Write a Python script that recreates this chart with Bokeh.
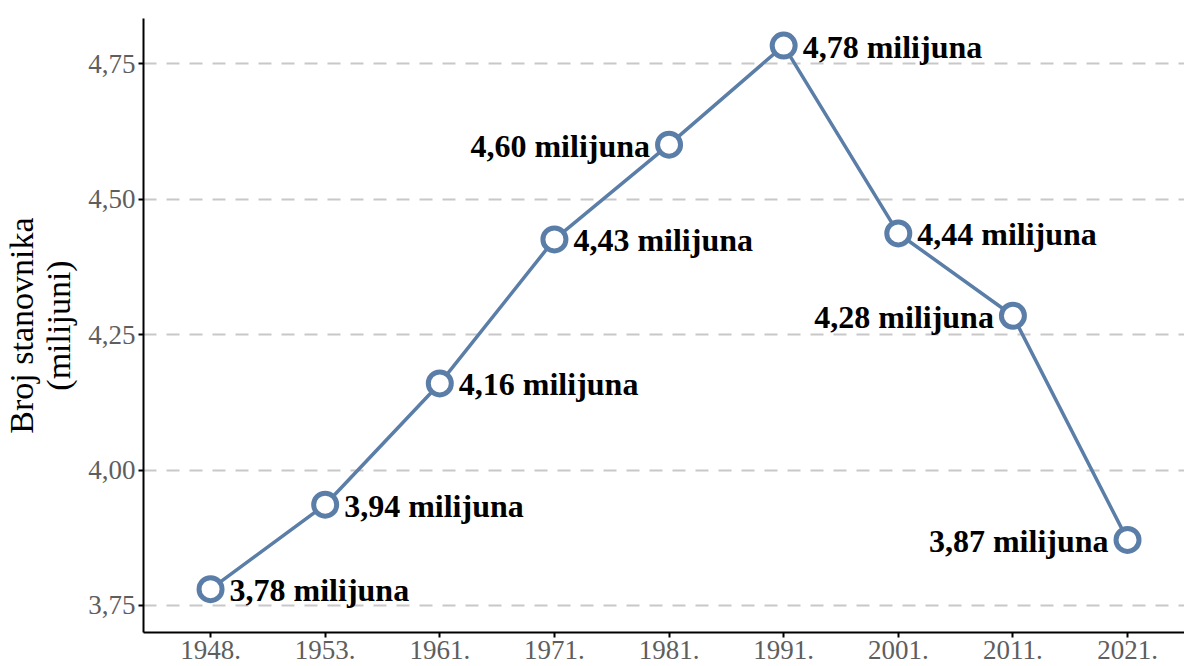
from bokeh.plotting import figure
from bokeh.models import Range1d, FixedTicker, ColumnDataSource
from bokeh.core.properties import value
from bokeh.embed import file_html
from bokeh.resources import INLINE

years = ["1948.", "1953.", "1961.", "1971.", "1981.", "1991.", "2001.", "2011.", "2021."]
population = [3.780, 3.936, 4.160, 4.426, 4.601, 4.784, 4.437, 4.285, 3.871]
labels = ["3,78 milijuna", "3,94 milijuna", "4,16 milijuna", "4,43 milijuna", "4,60 milijuna",
          "4,78 milijuna", "4,44 milijuna", "4,28 milijuna", "3,87 milijuna"]
label_side = ["right", "right", "right", "right", "left", "right", "right", "left", "left"]
y_ticks = [3.75, 4.00, 4.25, 4.50, 4.75]
y_tick_labels = ["3,75", "4,00", "4,25", "4,50", "4,75"]

FONT = "Liberation Serif"
BLUE = "#5a7ea7"

xs = list(range(len(years)))

p = figure(width=1184, height=666, output_backend="svg", toolbar_location=None,
           x_range=Range1d(-0.585, 8.497), y_range=Range1d(3.700, 4.834),
           min_border_left=142, min_border_right=0, min_border_top=18, min_border_bottom=34)
p.outline_line_color = None
p.background_fill_color = "white"

p.xgrid.grid_line_color = None
p.ygrid.grid_line_color = "#c8c8c8"
p.ygrid.grid_line_width = 2
p.ygrid.grid_line_dash = "13 10"
p.ygrid.ticker = FixedTicker(ticks=y_ticks)

p.xaxis.ticker = FixedTicker(ticks=xs)
p.xaxis.major_label_overrides = {i: y for i, y in enumerate(years)}
p.yaxis.ticker = FixedTicker(ticks=y_ticks)
p.yaxis.major_label_overrides = {t: l for t, l in zip(y_ticks, y_tick_labels)}

for ax in (p.xaxis[0], p.yaxis[0]):
    ax.axis_line_color = "black"
    ax.axis_line_width = 2
    ax.major_tick_line_color = "black"
    ax.major_tick_line_width = 2
    ax.major_tick_out = 5
    ax.major_tick_in = 0
    ax.minor_tick_line_color = None
    ax.major_label_text_font = FONT
    ax.major_label_text_font_size = "27px"
    ax.major_label_text_color = "#5e5e5e"
    ax.major_label_standoff = 3

p.yaxis.axis_label = "Broj stanovnika\n(milijuni)"
p.yaxis.axis_label_text_font = FONT
p.yaxis.axis_label_text_font_size = "34px"
p.yaxis.axis_label_text_font_style = "normal"
p.yaxis.axis_label_text_color = "black"
p.yaxis.axis_label_text_line_height = 1.0
p.yaxis.axis_label_standoff = 8

src = ColumnDataSource(dict(x=xs, y=population, label=labels))
p.line("x", "y", source=src, line_color=BLUE, line_width=3.5)
p.scatter("x", "y", source=src, size=23, fill_color="white", line_color=BLUE, line_width=5)

r_idx = [i for i, s in enumerate(label_side) if s == "right"]
l_idx = [i for i, s in enumerate(label_side) if s == "left"]
src_r = ColumnDataSource(dict(x=[xs[i] for i in r_idx], y=[population[i] for i in r_idx],
                              label=[labels[i] for i in r_idx]))
src_l = ColumnDataSource(dict(x=[xs[i] for i in l_idx], y=[population[i] for i in l_idx],
                              label=[labels[i] for i in l_idx]))
p.text("x", "y", text="label", source=src_r, x_offset=19, y_offset=1,
       text_font=value(FONT), text_font_size="32px", text_font_style="bold",
       text_align="left", text_baseline="middle", text_color="black")
p.text("x", "y", text="label", source=src_l, x_offset=-19, y_offset=1,
       text_font=value(FONT), text_font_size="32px", text_font_style="bold",
       text_align="right", text_baseline="middle", text_color="black")

open("out.html", "w").write(file_html(p, INLINE))
